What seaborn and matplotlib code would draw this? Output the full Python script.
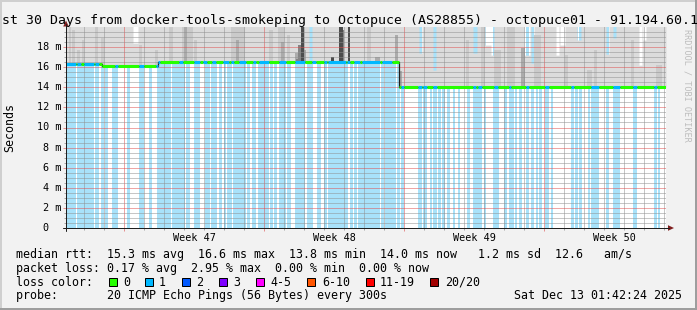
import numpy as np
import matplotlib
matplotlib.use("Agg")
import matplotlib.pyplot as plt
import seaborn as sns
from matplotlib.patches import Rectangle, Polygon
from matplotlib.lines import Line2D
from matplotlib.transforms import blended_transform_factory

# ---------------- data (x: days since start of the 30-day window, y: ms) ----------------
WINDOW_DAYS = 30.0
MEDIAN_START_DAY = [0.0, 1.8, 4.6, 16.65]
MEDIAN_MS = [16.3, 16.1, 16.5, 14.0]

# periods with packet loss -> light-blue background
LOSS_START_DAY = [0.00, 0.55, 0.90, 1.20, 1.45, 1.75, 1.95, 2.30, 2.45, 3.05, 3.65, 4.15, 4.55, 4.85,
                  5.10, 5.30, 5.45, 6.00, 6.40, 6.95, 7.25, 7.65, 7.90, 8.05, 8.35, 8.65, 9.05, 9.30,
                  9.60, 9.80, 9.95, 10.20, 10.40, 10.65, 11.05, 11.45, 12.05, 12.55, 12.90, 13.10,
                  13.85, 14.20, 14.40, 14.60, 14.80, 15.10, 15.75, 15.95, 16.55, 16.75, 17.60, 17.85,
                  18.20, 18.35, 18.60, 18.80, 19.05, 19.35, 19.60, 20.05, 20.35, 20.90, 21.35, 21.90,
                  22.15, 22.25, 22.45, 22.65, 23.00, 23.25, 23.50, 23.65, 23.95, 24.25, 25.25, 25.45,
                  25.65, 26.10, 26.25, 27.00, 27.35, 28.35, 29.40, 29.60]
LOSS_END_DAY = [0.45, 0.85, 1.15, 1.35, 1.60, 1.85, 2.05, 2.40, 2.55, 3.15, 3.85, 4.25, 4.80, 5.05,
                5.20, 5.40, 5.90, 6.15, 6.65, 7.15, 7.50, 7.75, 7.95, 8.25, 8.60, 8.95, 9.15, 9.45,
                9.75, 9.90, 10.10, 10.30, 10.50, 10.95, 11.20, 11.90, 12.30, 12.70, 13.00, 13.80,
                14.05, 14.30, 14.50, 14.75, 15.05, 15.65, 15.85, 16.45, 16.65, 16.85, 17.75, 18.00,
                18.25, 18.50, 18.70, 18.90, 19.15, 19.40, 19.65, 20.15, 20.75, 20.95, 21.60, 22.00,
                22.20, 22.35, 22.50, 22.75, 23.10, 23.35, 23.55, 23.75, 24.10, 24.30, 25.35, 25.55,
                25.75, 26.15, 26.60, 27.10, 27.65, 28.50, 29.50, 29.65]

# stretches where the median line is drawn in the "1 lost" colour (green elsewhere)
BLUE_MEDIAN_START_DAY = [0.00, 0.55, 0.90, 1.20, 1.45, 2.45, 3.65, 4.50, 5.65, 6.40, 6.85, 7.30, 7.85,
                         8.25, 8.65, 9.35, 9.65, 9.80, 10.65, 11.45, 12.30, 12.90, 13.10, 14.05,
                         14.40, 14.80, 15.80, 15.95, 16.75, 17.60, 17.85, 18.35, 20.35, 20.60,
                         21.40, 22.15, 23.00, 23.95, 25.25, 26.25, 27.35, 28.35, 29.40]
BLUE_MEDIAN_END_DAY = [0.45, 0.70, 1.15, 1.35, 1.60, 2.55, 3.85, 4.65, 5.80, 6.65, 7.00, 7.45, 8.10,
                       8.35, 8.95, 9.45, 9.75, 10.10, 10.95, 11.90, 12.45, 13.00, 13.95, 14.15,
                       14.65, 15.65, 15.90, 16.25, 16.85, 17.75, 18.00, 18.50, 20.45, 20.75,
                       21.55, 22.20, 23.10, 24.10, 25.35, 26.60, 27.65, 28.50, 29.50]

# places where the outer smoke band (max rtt) stays below the top of the chart
GAP_START_DAY = [3.35, 12.15, 17.65, 18.35, 20.35, 20.95, 21.25, 22.90, 23.25, 24.50, 24.70, 25.55,
                 27.00, 27.35, 28.65, 28.85]
GAP_END_DAY = [3.55, 12.25, 17.75, 18.45, 20.50, 21.20, 21.35, 23.15, 23.35, 24.60, 24.90, 25.70,
               27.10, 27.45, 28.75, 28.95]
GAP_TOP_MS = [18.4, 16.5, 17.4, 15.7, 17.4, 18.2, 17.2, 17.2, 16.4, 17.2, 18.2, 18.7,
              17.3, 18.9, 16.2, 18.7]

# darker inner smoke bands (level 2 = light ... 5 = darkest)
SPIKE_START_DAY = [0.15, 0.30, 0.55, 0.80, 1.45, 1.75, 3.65, 4.45, 5.15, 5.80, 6.40, 8.25, 10.15,
                   10.60, 11.05, 15.05, 20.00, 20.75, 21.40, 22.05, 23.40, 24.95, 26.05, 26.40,
                   28.25, 29.50,
                   5.95, 8.50, 10.75, 11.45, 11.80, 15.45, 16.45, 16.65, 22.75,
                   11.50, 11.60, 13.80,
                   11.75, 13.25, 13.65, 14.10]
SPIKE_END_DAY = [0.20, 0.40, 0.65, 0.85, 1.55, 1.85, 3.75, 4.55, 5.30, 6.30, 6.50, 8.90, 10.30,
                 10.85, 11.15, 15.20, 20.10, 20.85, 21.70, 22.40, 23.70, 25.05, 26.25, 26.50,
                 28.35, 29.75,
                 6.00, 8.60, 10.85, 11.55, 11.95, 15.65, 16.55, 16.75, 22.90,
                 11.55, 11.70, 13.85,
                 11.85, 13.35, 13.80, 14.15]
SPIKE_TOP_MS = [20.0, 19.7, 17.7, 18.7, 20.0, 18.9, 18.2, 17.7, 20.0, 20.0, 18.7, 20.0, 19.7,
                20.0, 19.2, 20.0, 18.7, 20.0, 17.7, 20.0, 19.2, 17.2, 15.7, 17.7,
                18.7, 16.2,
                20.0, 18.7, 18.5, 17.4, 17.7, 17.0, 19.2, 15.6, 17.9,
                16.8, 18.2, 19.7,
                20.0, 17.0, 20.0, 20.0]
SPIKE_LEVEL = [2] * 26 + [3] * 9 + [4] * 3 + [5] * 4

WEEK_START_DAY = [2.9, 9.9, 16.9, 23.9]
WEEK_LABELS = ["Week 47", "Week 48", "Week 49", "Week 50"]
Y_TICKS_MS = [0, 2, 4, 6, 8, 10, 12, 14, 16, 18]
Y_TICK_LABELS = ["0", "2 m", "4 m", "6 m", "8 m", "10 m", "12 m", "14 m", "16 m", "18 m"]

TITLE = "st 30 Days from docker-tools-smokeping to Octopuce (AS28855) - octopuce01 - 91.194.60.1"
LEGEND_LINES = [
    "median rtt:  15.3 ms avg  16.6 ms max  13.8 ms min  14.0 ms now   1.2 ms sd  12.6   am/s",
    "packet loss: 0.17 % avg  2.95 % max  0.00 % min  0.00 % now",
    "loss color:",
    "probe:       20 ICMP Echo Pings (56 Bytes) every 300s",
]
LOSS_LABELS = ["0", "1", "2", "3", "4-5", "6-10", "11-19", "20/20"]
LOSS_COLORS = ["#26ff00", "#00b8ff", "#0059ff", "#7e00ff", "#ff00ff", "#ff5500", "#ff0000", "#a10000"]
DATE_TEXT = "Sat Dec 13 01:42:24 2025"
WATERMARK = "RRDTOOL / TOBI OETIKER"

# ---------------- style ----------------
sns.set_style("white")
plt.rcParams["font.family"] = ["DejaVu Sans Mono", "DejaVu Sans"]

BACK = "#f2f2f2"
SHADE_A = "#cfcfcf"
SHADE_B = "#9e9e9e"
GRID = (0.56, 0.56, 0.56, 0.75)
MGRID = (0.87, 0.31, 0.31, 0.60)
ARROW = "#801f1f"
AXIS = "#1f1f1f"
LOSS_BG = "#a8e2fa"
SMOKE_LEVELS = {1: "#dcdcdc", 2: "#cacaca", 3: "#ababab", 4: "#838383", 5: "#4c4c4c"}

W, H, DPI = 697, 310, 100
X0, X1, YT, YB = 66, 666, 27, 228


def fx(x):
    return x / W


def fy(y):
    return 1 - y / H


fig = plt.figure(figsize=(W / DPI, H / DPI), dpi=DPI, facecolor=BACK)
ax = fig.add_axes([fx(X0), fy(YB), (X1 - X0) / W, (YB - YT) / H])
ax.set_facecolor("white")
ax.set_xlim(0, WINDOW_DAYS)
ax.set_ylim(0, 20)
for s in ax.spines.values():
    s.set_visible(False)

YTOP = 20.5


def median_at(d):
    idx = np.searchsorted(MEDIAN_START_DAY, d, side="right") - 1
    return np.asarray(MEDIAN_MS)[idx]


# loss background bars
for a, b in zip(LOSS_START_DAY, LOSS_END_DAY):
    ax.bar(a, YTOP, width=b - a + 0.05, bottom=0, align="edge", color=LOSS_BG,
           linewidth=0, zorder=1.0)

# outer smoke band
step = 0.05
cols = np.arange(0, WINDOW_DAYS, step)
centers = cols + step / 2
med = median_at(centers)
top = np.full(cols.shape, YTOP)
for a, b, v in zip(GAP_START_DAY, GAP_END_DAY, GAP_TOP_MS):
    top[(centers >= a) & (centers < b + step)] = v
xs = np.append(cols, WINDOW_DAYS)
ax.fill_between(xs, np.append(med, med[-1]), np.append(top, top[-1]), step="post",
                color=SMOKE_LEVELS[1], linewidth=0, zorder=1.2)

# inner smoke bands
for a, b, v, lev in zip(SPIKE_START_DAY, SPIKE_END_DAY, SPIKE_TOP_MS, SPIKE_LEVEL):
    m = float(median_at((a + b) / 2))
    t = YTOP if v >= 20.0 else v
    ax.bar(a, t - m, width=b - a + 0.05, bottom=m, align="edge",
           color=SMOKE_LEVELS[lev], linewidth=0, zorder=1.2 + lev * 0.05)

# median: dark step line underneath, then coloured by loss
sx = MEDIAN_START_DAY + [WINDOW_DAYS]
sy = MEDIAN_MS + [MEDIAN_MS[-1]]
sns.lineplot(x=sx, y=sy, drawstyle="steps-post", color=AXIS, linewidth=0.9, ax=ax, zorder=2.9)

blue = np.zeros(cols.shape, dtype=bool)
for a, b in zip(BLUE_MEDIAN_START_DAY, BLUE_MEDIAN_END_DAY):
    blue |= (centers >= a) & (centers < b + step)
run_start = 0
for i in range(1, len(cols) + 1):
    if i == len(cols) or blue[i] != blue[run_start] or med[i] != med[run_start]:
        ax.hlines(med[run_start], cols[run_start], cols[i - 1] + step,
                  color=LOSS_COLORS[1] if blue[run_start] else LOSS_COLORS[0],
                  linewidth=2.2, zorder=3)
        run_start = i

# grid
ax.set_xticks(WEEK_START_DAY)
ax.set_xticks(np.arange(0.9, WINDOW_DAYS, 1.0), minor=True)
ax.set_yticks(Y_TICKS_MS)
ax.set_yticks(np.arange(0.5, 20, 0.5), minor=True)
ax.set_axisbelow(False)
ax.grid(which="major", color=MGRID, linestyle=(0, (1, 1)), linewidth=0.72)
ax.grid(which="minor", color=GRID, linestyle=(0, (1, 1)), linewidth=0.72)
ax.tick_params(which="major", direction="out", length=2.2, width=0.72, color=MGRID,
               labelleft=False, labelbottom=False, left=True, bottom=True)
ax.tick_params(which="minor", direction="out", length=1.6, width=0.72, color=GRID,
               left=True, bottom=True)

# axis lines and arrows
fig.add_artist(Line2D([fx(X0), fx(X0)], [fy(231), fy(24)], color=AXIS, linewidth=0.72))
fig.add_artist(Line2D([fx(63), fx(669)], [fy(YB), fy(YB)], color=AXIS, linewidth=0.72))
fig.add_artist(Polygon([[fx(63.2), fy(26.5)], [fx(68.8), fy(26.5)], [fx(66), fy(20.5)]],
                       closed=True, color=ARROW, linewidth=0))
fig.add_artist(Polygon([[fx(668), fy(225.2)], [fx(668), fy(230.8)], [fx(674), fy(228)]],
                       closed=True, color=ARROW, linewidth=0))

# y tick labels
ty = blended_transform_factory(fig.transFigure, ax.transData)
for v, lab in zip(Y_TICKS_MS, Y_TICK_LABELS):
    xr = 61 if lab != "0" else 48.8
    ax.text(fx(xr), v, lab, transform=ty, ha="right", va="center", fontsize=7.33,
            color="black", clip_on=False)

# week labels
tx = blended_transform_factory(ax.transData, fig.transFigure)
for d, lab in zip(WEEK_START_DAY, WEEK_LABELS):
    ax.text(d + 3.5, fy(240.7), lab, transform=tx, ha="center", va="baseline",
            fontsize=7.33, color="black", clip_on=False)

# title, unit label, watermark
fig.text(fx(2), fy(24), TITLE, ha="left", va="baseline", fontsize=9.5, color="black")
fig.text(fx(10), fy(127), "Seconds", rotation=90, ha="center", va="center", fontsize=8.37,
         color="black")
fig.text(fx(687), fy(29), WATERMARK, rotation=270, ha="center", va="top", fontsize=6.1,
         color="#bdbdbd")

# legend block
baselines = [257.7, 271.7, 285.7, 299.3]
for line, yb in zip(LEGEND_LINES, baselines):
    fig.text(fx(16), fy(yb), line, ha="left", va="baseline", fontsize=8.37, color="black")
fig.text(fx(514), fy(299.3), DATE_TEXT, ha="left", va="baseline", fontsize=8.37, color="black")

box_x = [109, 145, 182, 219, 256, 307, 366, 430]
lab_x = [123, 159, 196, 233, 270, 322, 380, 445]
for bx, lx, col, lab in zip(box_x, lab_x, LOSS_COLORS, LOSS_LABELS):
    fig.add_artist(Rectangle((fx(bx), fy(286)), 8 / W, 8 / H, facecolor=col,
                             edgecolor="black", linewidth=0.72))
    fig.text(fx(lx), fy(285.7), lab, ha="left", va="baseline", fontsize=8.37, color="black")

# frame shading
fig.add_artist(Rectangle((0, fy(2)), 1, 2 / H, facecolor=SHADE_A, linewidth=0))
fig.add_artist(Rectangle((0, 0), 2 / W, 1, facecolor=SHADE_A, linewidth=0))
fig.add_artist(Rectangle((0, 0), 1, 2 / H, facecolor=SHADE_B, linewidth=0))
fig.add_artist(Rectangle((fx(695), 0), 2 / W, 1, facecolor=SHADE_B, linewidth=0))

fig.savefig("out.png", dpi=DPI, facecolor=BACK)
